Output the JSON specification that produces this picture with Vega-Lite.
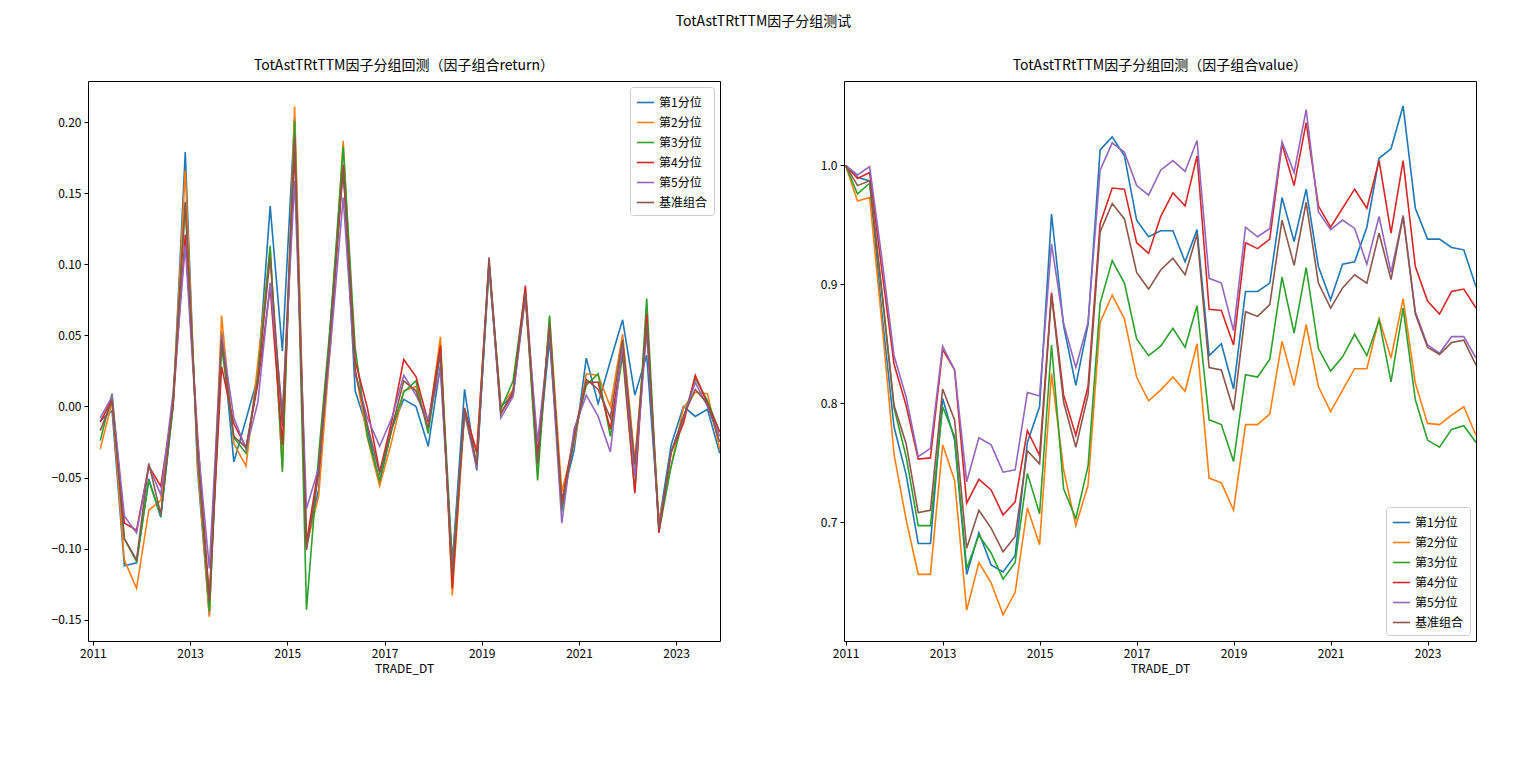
{
  "$schema": "https://vega.github.io/schema/vega-lite/v6.json",
  "padding": {"left": 50, "top": 14, "right": 5, "bottom": 5},
  "background": "white",
  "title": {"text": "TotAstTRtTTM因子分组测试", "anchor": "middle", "fontSize": 14, "fontWeight": "normal", "font": "Noto Sans CJK SC", "color": "black", "offset": 30},
  "config": {
    "font": "Noto Sans CJK SC",
    "view": {"stroke": "black", "strokeWidth": 1},
    "axis": {"grid": false, "domain": false, "tickColor": "black", "labelColor": "black", "labelFontSize": 12, "titleFontSize": 12, "titleFontWeight": "normal", "titleColor": "black", "tickSize": 4, "labelPadding": 3},
    "title": {"fontSize": 14, "fontWeight": "normal", "color": "black", "offset": 8},
    "legend": {"fillColor": "white", "strokeColor": "#cccccc", "cornerRadius": 3, "padding": 6, "labelFontSize": 12, "labelColor": "black", "symbolType": "stroke", "symbolSize": 300, "symbolStrokeWidth": 1.6, "rowPadding": 4, "offset": 6}
  },
  "datasets": {
    "ret": [
      {"d":"2011-02-25","第1分位":-0.010,"第2分位":-0.030,"第3分位":-0.024,"第4分位":-0.011,"第5分位":-0.008,"基准组合":-0.017},
      {"d":"2011-05-25","第1分位":-0.003,"第2分位":0.003,"第3分位":0.009,"第4分位":0.005,"第5分位":0.007,"基准组合":0.004},
      {"d":"2011-08-25","第1分位":-0.112,"第2分位":-0.108,"第3分位":-0.093,"第4分位":-0.082,"第5分位":-0.077,"基准组合":-0.093},
      {"d":"2011-11-25","第1分位":-0.110,"第2分位":-0.128,"第3分位":-0.109,"第4分位":-0.087,"第5分位":-0.089,"基准组合":-0.108},
      {"d":"2012-02-25","第1分位":-0.051,"第2分位":-0.073,"第3分位":-0.052,"第4分位":-0.042,"第5分位":-0.042,"基准组合":-0.040},
      {"d":"2012-05-25","第1分位":-0.078,"第2分位":-0.066,"第3分位":-0.077,"第4分位":-0.056,"第5分位":-0.062,"基准组合":-0.076},
      {"d":"2012-08-25","第1分位":0.000,"第2分位":0.000,"第3分位":0.000,"第4分位":0.001,"第5分位":0.009,"基准组合":0.003},
      {"d":"2012-11-25","第1分位":0.179,"第2分位":0.166,"第3分位":0.143,"第4分位":0.121,"第5分位":0.113,"基准组合":0.144},
      {"d":"2013-02-25","第1分位":-0.044,"第2分位":-0.039,"第3分位":-0.031,"第4分位":-0.020,"第5分位":-0.024,"基准组合":-0.032},
      {"d":"2013-05-25","第1分位":-0.147,"第2分位":-0.148,"第3分位":-0.144,"第4分位":-0.135,"第5分位":-0.114,"基准组合":-0.137},
      {"d":"2013-08-25","第1分位":0.053,"第2分位":0.064,"第3分位":0.042,"第4分位":0.028,"第5分位":0.050,"基准组合":0.047},
      {"d":"2013-11-25","第1分位":-0.039,"第2分位":-0.026,"第3分位":-0.022,"第4分位":-0.012,"第5分位":-0.008,"基准组合":-0.021},
      {"d":"2014-02-25","第1分位":-0.009,"第2分位":-0.042,"第3分位":-0.033,"第4分位":-0.029,"第5分位":-0.030,"基准组合":-0.029},
      {"d":"2014-05-25","第1分位":0.021,"第2分位":0.031,"第3分位":0.021,"第4分位":0.016,"第5分位":0.003,"基准组合":0.019},
      {"d":"2014-08-25","第1分位":0.141,"第2分位":0.111,"第3分位":0.113,"第4分位":0.084,"第5分位":0.087,"基准组合":0.105},
      {"d":"2014-11-25","第1分位":0.039,"第2分位":-0.044,"第3分位":-0.046,"第4分位":-0.027,"第5分位":-0.004,"基准组合":-0.014},
      {"d":"2015-02-25","第1分位":0.203,"第2分位":0.211,"第3分位":0.201,"第4分位":0.181,"第5分位":0.159,"基准组合":0.190},
      {"d":"2015-05-25","第1分位":-0.098,"第2分位":-0.098,"第3分位":-0.143,"第4分位":-0.096,"第5分位":-0.072,"基准组合":-0.101},
      {"d":"2015-08-25","第1分位":-0.058,"第2分位":-0.063,"第3分位":-0.034,"第4分位":-0.042,"第5分位":-0.043,"基准组合":-0.047},
      {"d":"2015-11-25","第1分位":0.063,"第2分位":0.049,"第3分位":0.063,"第4分位":0.053,"第5分位":0.046,"基准组合":0.058},
      {"d":"2016-02-25","第1分位":0.170,"第2分位":0.187,"第3分位":0.183,"第4分位":0.168,"第5分位":0.147,"基准组合":0.170},
      {"d":"2016-05-25","第1分位":0.011,"第2分位":0.026,"第3分位":0.041,"第4分位":0.032,"第5分位":0.023,"基准组合":0.025},
      {"d":"2016-08-25","第1分位":-0.016,"第2分位":-0.022,"第3分位":-0.021,"第4分位":-0.001,"第5分位":-0.008,"基准组合":-0.013},
      {"d":"2016-11-25","第1分位":-0.054,"第2分位":-0.056,"第3分位":-0.052,"第4分位":-0.046,"第5分位":-0.028,"基准组合":-0.047},
      {"d":"2017-02-25","第1分位":-0.015,"第2分位":-0.024,"第3分位":-0.016,"第4分位":-0.010,"第5分位":-0.008,"基准组合":-0.015},
      {"d":"2017-05-25","第1分位":0.005,"第2分位":0.011,"第3分位":0.010,"第4分位":0.033,"第5分位":0.022,"基准组合":0.018},
      {"d":"2017-08-25","第1分位":0.000,"第2分位":0.014,"第3分位":0.018,"第4分位":0.021,"第5分位":0.008,"基准组合":0.011},
      {"d":"2017-11-25","第1分位":-0.028,"第2分位":-0.015,"第3分位":-0.019,"第4分位":-0.011,"第5分位":-0.009,"基准组合":-0.015},
      {"d":"2018-02-25","第1分位":0.029,"第2分位":0.049,"第3分位":0.041,"第4分位":0.043,"第5分位":0.026,"基准组合":0.037},
      {"d":"2018-05-25","第1分位":-0.112,"第2分位":-0.133,"第3分位":-0.109,"第4分位":-0.128,"第5分位":-0.114,"基准组合":-0.119},
      {"d":"2018-08-25","第1分位":0.012,"第2分位":-0.005,"第3分位":-0.005,"第4分位":-0.001,"第5分位":-0.004,"基准组合":-0.002},
      {"d":"2018-11-25","第1分位":-0.045,"第2分位":-0.031,"第3分位":-0.040,"第4分位":-0.033,"第5分位":-0.044,"基准组合":-0.041},
      {"d":"2019-02-25","第1分位":0.101,"第2分位":0.101,"第3分位":0.097,"第4分位":0.101,"第5分位":0.101,"基准组合":0.105},
      {"d":"2019-05-25","第1分位":0.000,"第2分位":0.000,"第3分位":-0.002,"第4分位":-0.005,"第5分位":-0.008,"基准组合":-0.005},
      {"d":"2019-08-25","第1分位":0.008,"第2分位":0.012,"第3分位":0.018,"第4分位":0.009,"第5分位":0.007,"基准组合":0.011},
      {"d":"2019-11-25","第1分位":0.080,"第2分位":0.077,"第3分位":0.082,"第4分位":0.085,"第5分位":0.077,"基准组合":0.080},
      {"d":"2020-02-25","第1分位":-0.038,"第2分位":-0.043,"第3分位":-0.052,"第4分位":-0.034,"第5分位":-0.025,"基准组合":-0.040},
      {"d":"2020-05-25","第1分位":0.047,"第2分位":0.063,"第3分位":0.064,"第4分位":0.054,"第5分位":0.053,"基准组合":0.058},
      {"d":"2020-08-25","第1分位":-0.066,"第2分位":-0.060,"第3分位":-0.074,"第4分位":-0.068,"第5分位":-0.082,"基准组合":-0.070},
      {"d":"2020-11-25","第1分位":-0.031,"第2分位":-0.026,"第3分位":-0.022,"第4分位":-0.019,"第5分位":-0.016,"基准组合":-0.023},
      {"d":"2021-02-25","第1分位":0.034,"第2分位":0.023,"第3分位":0.015,"第4分位":0.017,"第5分位":0.008,"基准组合":0.019},
      {"d":"2021-05-25","第1分位":0.002,"第2分位":0.022,"第3分位":0.023,"第4分位":0.017,"第5分位":-0.007,"基准组合":0.012},
      {"d":"2021-08-25","第1分位":0.032,"第2分位":0.000,"第3分位":-0.021,"第4分位":-0.016,"第5分位":-0.032,"基准组合":-0.008},
      {"d":"2021-11-25","第1分位":0.061,"第2分位":0.051,"第3分位":0.036,"第4分位":0.041,"第5分位":0.044,"基准组合":0.047},
      {"d":"2022-02-25","第1分位":0.008,"第2分位":-0.038,"第3分位":-0.060,"第4分位":-0.061,"第5分位":-0.049,"基准组合":-0.041},
      {"d":"2022-05-25","第1分位":0.036,"第2分位":0.060,"第3分位":0.076,"第4分位":0.065,"第5分位":0.053,"基准组合":0.059},
      {"d":"2022-08-25","第1分位":-0.082,"第2分位":-0.080,"第3分位":-0.088,"第4分位":-0.089,"第5分位":-0.085,"基准组合":-0.086},
      {"d":"2022-11-25","第1分位":-0.027,"第2分位":-0.042,"第3分位":-0.042,"第4分位":-0.032,"第5分位":-0.032,"基准组合":-0.032},
      {"d":"2023-02-25","第1分位":0.000,"第2分位":-0.001,"第3分位":-0.008,"第4分位":-0.012,"第5分位":-0.008,"基准组合":-0.007},
      {"d":"2023-05-25","第1分位":-0.007,"第2分位":0.010,"第3分位":0.020,"第4分位":0.022,"第5分位":0.017,"基准组合":0.012},
      {"d":"2023-08-25","第1分位":-0.002,"第2分位":0.009,"第3分位":0.004,"第4分位":0.002,"第5分位":0.000,"基准组合":0.002},
      {"d":"2023-11-25","第1分位":-0.033,"第2分位":-0.030,"第3分位":-0.018,"第4分位":-0.018,"第5分位":-0.021,"基准组合":-0.025}
    ],
    "val": [
      {"d":"2011-01-01","第1分位":1.000,"第2分位":1.000,"第3分位":1.000,"第4分位":1.000,"第5分位":1.000,"基准组合":1.000},
      {"d":"2011-04-01","第1分位":0.990,"第2分位":0.970,"第3分位":0.976,"第4分位":0.989,"第5分位":0.992,"基准组合":0.983},
      {"d":"2011-07-01","第1分位":0.987,"第2分位":0.973,"第3分位":0.985,"第4分位":0.994,"第5分位":0.999,"基准组合":0.987},
      {"d":"2011-10-01","第1分位":0.876,"第2分位":0.868,"第3分位":0.893,"第4分位":0.912,"第5分位":0.922,"基准组合":0.895},
      {"d":"2012-01-01","第1分位":0.780,"第2分位":0.757,"第3分位":0.796,"第4分位":0.833,"第5分位":0.840,"基准组合":0.798},
      {"d":"2012-04-01","第1分位":0.740,"第2分位":0.702,"第3分位":0.755,"第4分位":0.798,"第5分位":0.805,"基准组合":0.766},
      {"d":"2012-07-01","第1分位":0.682,"第2分位":0.656,"第3分位":0.697,"第4分位":0.753,"第5分位":0.755,"基准组合":0.708},
      {"d":"2012-10-01","第1分位":0.682,"第2分位":0.656,"第3分位":0.697,"第4分位":0.754,"第5分位":0.762,"基准组合":0.710},
      {"d":"2013-01-01","第1分位":0.804,"第2分位":0.765,"第3分位":0.797,"第4分位":0.845,"第5分位":0.848,"基准组合":0.812},
      {"d":"2013-04-01","第1分位":0.769,"第2分位":0.735,"第3分位":0.772,"第4分位":0.828,"第5分位":0.828,"基准组合":0.786},
      {"d":"2013-07-01","第1分位":0.656,"第2分位":0.626,"第3分位":0.661,"第4分位":0.716,"第5分位":0.734,"基准组合":0.678},
      {"d":"2013-10-01","第1分位":0.691,"第2分位":0.666,"第3分位":0.689,"第4分位":0.736,"第5分位":0.771,"基准组合":0.710},
      {"d":"2014-01-01","第1分位":0.664,"第2分位":0.649,"第3分位":0.674,"第4分位":0.727,"第5分位":0.765,"基准组合":0.695},
      {"d":"2014-04-01","第1分位":0.658,"第2分位":0.622,"第3分位":0.652,"第4分位":0.706,"第5分位":0.742,"基准组合":0.675},
      {"d":"2014-07-01","第1分位":0.672,"第2分位":0.641,"第3分位":0.666,"第4分位":0.717,"第5分位":0.744,"基准组合":0.688},
      {"d":"2014-10-01","第1分位":0.767,"第2分位":0.712,"第3分位":0.741,"第4分位":0.777,"第5分位":0.809,"基准组合":0.760},
      {"d":"2015-01-01","第1分位":0.797,"第2分位":0.681,"第3分位":0.707,"第4分位":0.756,"第5分位":0.806,"基准组合":0.749},
      {"d":"2015-04-01","第1分位":0.959,"第2分位":0.825,"第3分位":0.849,"第4分位":0.893,"第5分位":0.934,"基准组合":0.891},
      {"d":"2015-07-01","第1分位":0.865,"第2分位":0.744,"第3分位":0.728,"第4分位":0.807,"第5分位":0.867,"基准组合":0.801},
      {"d":"2015-10-01","第1分位":0.815,"第2分位":0.697,"第3分位":0.703,"第4分位":0.773,"第5分位":0.830,"基准组合":0.763},
      {"d":"2016-01-01","第1分位":0.866,"第2分位":0.731,"第3分位":0.747,"第4分位":0.814,"第5分位":0.868,"基准组合":0.807},
      {"d":"2016-04-01","第1分位":1.013,"第2分位":0.868,"第3分位":0.884,"第4分位":0.951,"第5分位":0.996,"基准组合":0.944},
      {"d":"2016-07-01","第1分位":1.024,"第2分位":0.891,"第3分位":0.920,"第4分位":0.981,"第5分位":1.019,"基准组合":0.968},
      {"d":"2016-10-01","第1分位":1.008,"第2分位":0.871,"第3分位":0.901,"第4分位":0.980,"第5分位":1.011,"基准组合":0.955},
      {"d":"2017-01-01","第1分位":0.954,"第2分位":0.822,"第3分位":0.854,"第4分位":0.935,"第5分位":0.983,"基准组合":0.910},
      {"d":"2017-04-01","第1分位":0.940,"第2分位":0.802,"第3分位":0.840,"第4分位":0.926,"第5分位":0.975,"基准组合":0.896},
      {"d":"2017-07-01","第1分位":0.945,"第2分位":0.811,"第3分位":0.848,"第4分位":0.957,"第5分位":0.996,"基准组合":0.912},
      {"d":"2017-10-01","第1分位":0.945,"第2分位":0.822,"第3分位":0.863,"第4分位":0.977,"第5分位":1.004,"基准组合":0.922},
      {"d":"2018-01-01","第1分位":0.919,"第2分位":0.810,"第3分位":0.847,"第4分位":0.966,"第5分位":0.995,"基准组合":0.908},
      {"d":"2018-04-01","第1分位":0.946,"第2分位":0.850,"第3分位":0.882,"第4分位":1.008,"第5分位":1.021,"基准组合":0.942},
      {"d":"2018-07-01","第1分位":0.840,"第2分位":0.737,"第3分位":0.786,"第4分位":0.879,"第5分位":0.905,"基准组合":0.830},
      {"d":"2018-10-01","第1分位":0.850,"第2分位":0.733,"第3分位":0.782,"第4分位":0.878,"第5分位":0.901,"基准组合":0.828},
      {"d":"2019-01-01","第1分位":0.812,"第2分位":0.710,"第3分位":0.751,"第4分位":0.849,"第5分位":0.861,"基准组合":0.794},
      {"d":"2019-04-01","第1分位":0.894,"第2分位":0.782,"第3分位":0.824,"第4分位":0.935,"第5分位":0.948,"基准组合":0.877},
      {"d":"2019-07-01","第1分位":0.894,"第2分位":0.782,"第3分位":0.822,"第4分位":0.930,"第5分位":0.940,"基准组合":0.873},
      {"d":"2019-10-01","第1分位":0.901,"第2分位":0.791,"第3分位":0.837,"第4分位":0.938,"第5分位":0.947,"基准组合":0.883},
      {"d":"2020-01-01","第1分位":0.973,"第2分位":0.852,"第3分位":0.906,"第4分位":1.018,"第5分位":1.020,"基准组合":0.954},
      {"d":"2020-04-01","第1分位":0.936,"第2分位":0.815,"第3分位":0.859,"第4分位":0.983,"第5分位":0.994,"基准组合":0.916},
      {"d":"2020-07-01","第1分位":0.980,"第2分位":0.866,"第3分位":0.914,"第4分位":1.036,"第5分位":1.047,"基准组合":0.969},
      {"d":"2020-10-01","第1分位":0.915,"第2分位":0.814,"第3分位":0.846,"第4分位":0.966,"第5分位":0.961,"基准组合":0.901},
      {"d":"2021-01-01","第1分位":0.887,"第2分位":0.793,"第3分位":0.827,"第4分位":0.948,"第5分位":0.946,"基准组合":0.880},
      {"d":"2021-04-01","第1分位":0.917,"第2分位":0.811,"第3分位":0.839,"第4分位":0.964,"第5分位":0.954,"基准组合":0.897},
      {"d":"2021-07-01","第1分位":0.919,"第2分位":0.829,"第3分位":0.858,"第4分位":0.980,"第5分位":0.947,"基准组合":0.908},
      {"d":"2021-10-01","第1分位":0.948,"第2分位":0.829,"第3分位":0.840,"第4分位":0.964,"第5分位":0.917,"基准组合":0.901},
      {"d":"2022-01-01","第1分位":1.006,"第2分位":0.871,"第3分位":0.870,"第4分位":1.004,"第5分位":0.957,"基准组合":0.943},
      {"d":"2022-04-01","第1分位":1.014,"第2分位":0.838,"第3分位":0.818,"第4分位":0.943,"第5分位":0.910,"基准组合":0.904},
      {"d":"2022-07-01","第1分位":1.050,"第2分位":0.888,"第3分位":0.880,"第4分位":1.004,"第5分位":0.958,"基准组合":0.957},
      {"d":"2022-10-01","第1分位":0.964,"第2分位":0.817,"第3分位":0.803,"第4分位":0.915,"第5分位":0.877,"基准组合":0.875},
      {"d":"2023-01-01","第1分位":0.938,"第2分位":0.783,"第3分位":0.769,"第4分位":0.886,"第5分位":0.849,"基准组合":0.847},
      {"d":"2023-04-01","第1分位":0.938,"第2分位":0.782,"第3分位":0.763,"第4分位":0.875,"第5分位":0.842,"基准组合":0.841},
      {"d":"2023-07-01","第1分位":0.931,"第2分位":0.790,"第3分位":0.778,"第4分位":0.894,"第5分位":0.856,"基准组合":0.851},
      {"d":"2023-10-01","第1分位":0.929,"第2分位":0.797,"第3分位":0.781,"第4分位":0.896,"第5分位":0.856,"基准组合":0.853},
      {"d":"2024-01-01","第1分位":0.898,"第2分位":0.773,"第3分位":0.767,"第4分位":0.880,"第5分位":0.838,"基准组合":0.832}
    ]
  },
  "resolve": {"scale": {"color": "independent"}, "legend": {"color": "independent"}},
  "spacing": 98,
  "hconcat": [
    {
      "width": 632,
      "height": 560,
      "title": {"text": "TotAstTRtTTM因子分组回测（因子组合return）"},
      "data": {"name": "ret"},
      "transform": [{"fold": ["第1分位","第2分位","第3分位","第4分位","第5分位","基准组合"], "as": ["组合","v"]}],
      "mark": {"type": "line", "strokeWidth": 1.6, "clip": true},
      "encoding": {
        "x": {"field": "d", "type": "temporal", "title": "TRADE_DT",
              "scale": {"domain": ["2010-11-25", "2023-11-27"]},
              "axis": {"format": "%Y", "values": [{"year":2011,"month":1,"date":1},{"year":2013,"month":1,"date":1},{"year":2015,"month":1,"date":1},{"year":2017,"month":1,"date":1},{"year":2019,"month":1,"date":1},{"year":2021,"month":1,"date":1},{"year":2023,"month":1,"date":1}]}},
        "y": {"field": "v", "type": "quantitative", "title": null,
              "scale": {"domain": [-0.165, 0.229], "nice": false, "zero": false},
              "axis": {"values": [-0.15,-0.1,-0.05,0,0.05,0.1,0.15,0.2], "format": ".2f"}},
        "color": {"field": "组合", "type": "nominal", "title": null,
                  "scale": {"domain": ["第1分位","第2分位","第3分位","第4分位","第5分位","基准组合"], "range": ["#1f77b4","#ff7f0e","#2ca02c","#d62728","#9467bd","#8c564b"]},
                  "legend": {"orient": "top-right"}}
      }
    },
    {
      "width": 632,
      "height": 560,
      "title": {"text": "TotAstTRtTTM因子分组回测（因子组合value）"},
      "data": {"name": "val"},
      "transform": [{"fold": ["第1分位","第2分位","第3分位","第4分位","第5分位","基准组合"], "as": ["组合","v"]}],
      "mark": {"type": "line", "strokeWidth": 1.6, "clip": true},
      "encoding": {
        "x": {"field": "d", "type": "temporal", "title": "TRADE_DT",
              "scale": {"domain": ["2010-12-20", "2024-01-01"]},
              "axis": {"format": "%Y", "values": [{"year":2011,"month":1,"date":1},{"year":2013,"month":1,"date":1},{"year":2015,"month":1,"date":1},{"year":2017,"month":1,"date":1},{"year":2019,"month":1,"date":1},{"year":2021,"month":1,"date":1},{"year":2023,"month":1,"date":1}]}},
        "y": {"field": "v", "type": "quantitative", "title": null,
              "scale": {"domain": [0.6, 1.071], "nice": false, "zero": false},
              "axis": {"values": [0.7,0.8,0.9,1.0], "format": ".1f"}},
        "color": {"field": "组合", "type": "nominal", "title": null,
                  "scale": {"domain": ["第1分位","第2分位","第3分位","第4分位","第5分位","基准组合"], "range": ["#1f77b4","#ff7f0e","#2ca02c","#d62728","#9467bd","#8c564b"]},
                  "legend": {"orient": "bottom-right"}}
      }
    }
  ]
}
